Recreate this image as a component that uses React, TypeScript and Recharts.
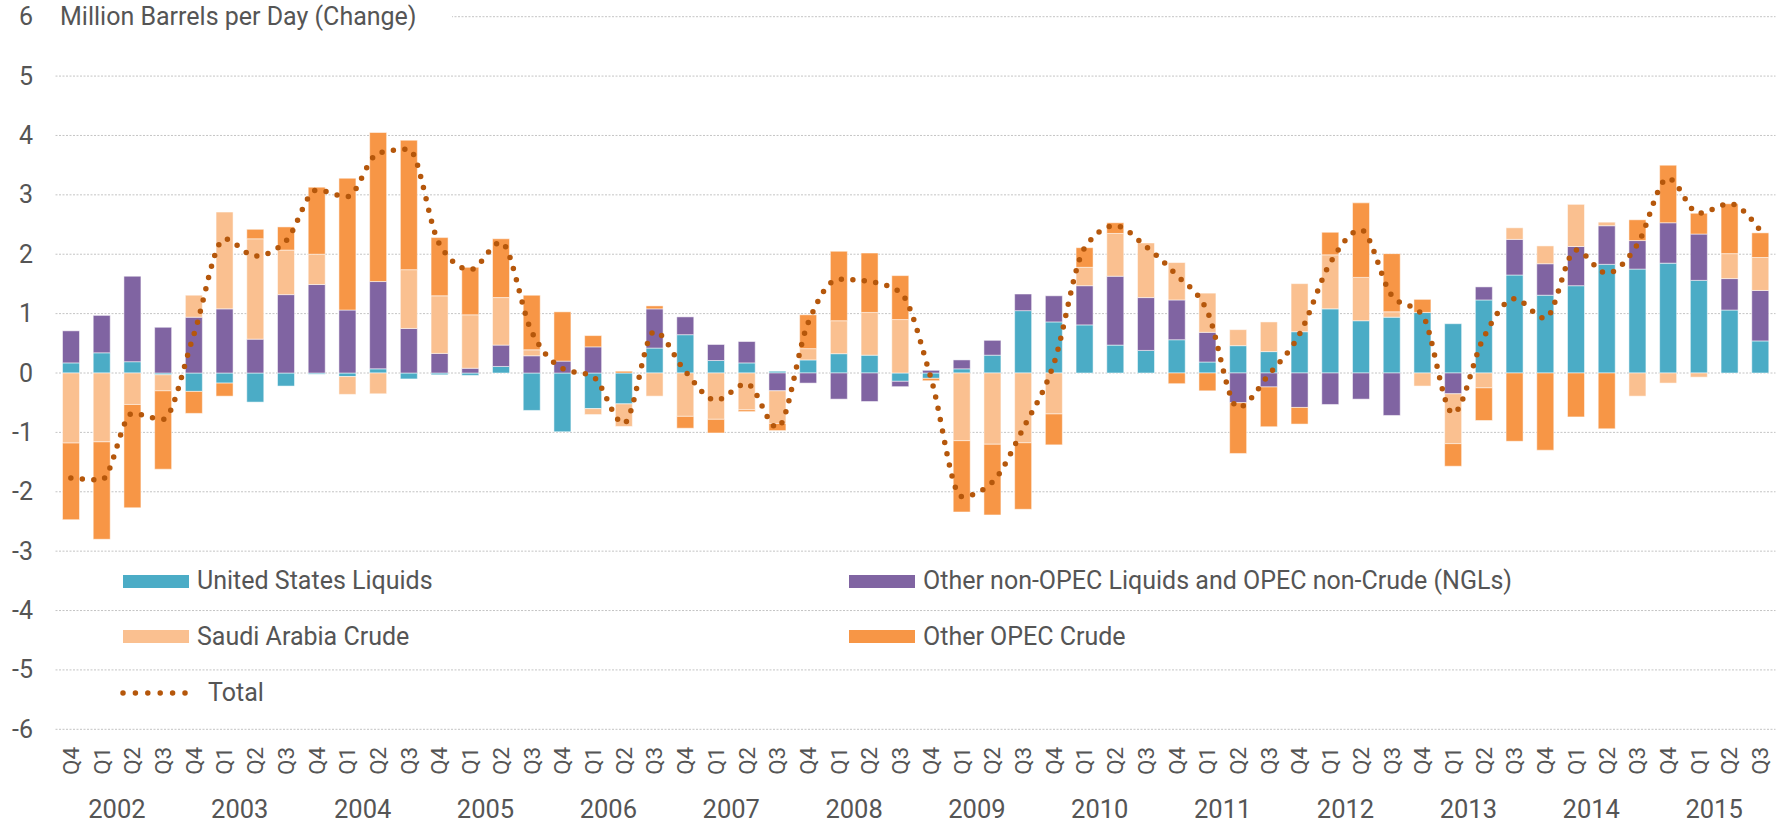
import React from 'react'
import { ComposedChart, Bar, Line, XAxis, YAxis, CartesianGrid } from 'recharts'

const years = ['2002', '2003', '2004', '2005', '2006', '2007', '2008', '2009', '2010', '2011', '2012', '2013', '2014', '2015']
const quarters = ['Q4', 'Q1', 'Q2', 'Q3']

// million barrels per day, change
const usLiquids = [
  0.17, 0.34, 0.19, -0.03, -0.31, -0.17, -0.49, -0.22, -0.02, -0.06, 0.07, -0.1, -0.03, -0.04,
  0.11, -0.63, -0.99, -0.6, -0.52, 0.42, 0.645, 0.21, 0.17, 0.03, 0.22, 0.325, 0.3, -0.14,
  -0.09, 0.07, 0.3, 1.05, 0.86, 0.81, 0.47, 0.38, 0.56, 0.185, 0.46, 0.36, 0.695, 1.08,
  0.88, 0.94, 1.02, 0.83, 1.23, 1.65, 1.31, 1.47, 1.83, 1.75, 1.85, 1.56, 1.06, 0.54,
]
const otherNonOpec = [
  0.54, 0.63, 1.44, 0.77, 0.94, 1.08, 0.57, 1.32, 1.49, 1.06, 1.47, 0.75, 0.33, 0.08,
  0.36, 0.29, 0.2, 0.44, 0, 0.66, 0.3, 0.27, 0.36, -0.3, -0.17, -0.44, -0.48, -0.09,
  0.045, 0.15, 0.25, 0.28, 0.44, 0.66, 1.16, 0.89, 0.67, 0.5, -0.5, -0.235, -0.58, -0.53,
  -0.44, -0.715, 0, -0.35, 0.22, 0.6, 0.53, 0.66, 0.65, 0.48, 0.68, 0.78, 0.53, 0.85,
]
const saudiCrude = [
  -1.18, -1.16, -0.53, -0.27, 0.37, 1.63, 1.69, 0.75, 0.51, -0.3, -0.35, 0.99, 0.97, 0.9,
  0.8, 0.1, 0, -0.1, -0.38, -0.39, -0.73, -0.78, -0.62, -0.55, 0.19, 0.555, 0.72, 0.9,
  0, -1.14, -1.2, -1.175, -0.69, 0.31, 0.72, 0.92, 0.63, 0.66, 0.27, 0.5, 0.81, 0.91,
  0.73, 0.09, -0.22, -0.84, -0.25, 0.195, 0.3, 0.71, 0.06, -0.39, -0.17, -0.07, 0.42, 0.555,
]
const otherOpecCrude = [
  -1.29, -1.64, -1.74, -1.32, -0.37, -0.22, 0.16, 0.39, 1.13, 2.22, 2.51, 2.18, 0.98, 0.8,
  0.99, 0.92, 0.83, 0.19, 0.03, 0.05, -0.2, -0.23, -0.03, -0.12, 0.57, 1.17, 1.0, 0.74,
  -0.04, -1.2, -1.19, -1.12, -0.52, 0.33, 0.18, 0, -0.18, -0.3, -0.855, -0.67, -0.28, 0.38,
  1.255, 0.98, 0.22, -0.38, -0.55, -1.15, -1.3, -0.74, -0.94, 0.35, 0.97, 0.35, 0.84, 0.415,
]
const total = [
  -1.77, -1.8, -0.68, -0.78, 0.64, 2.26, 1.97, 2.22, 3.08, 2.97, 3.7, 3.77, 2.17, 1.74,
  2.2, 0.7, 0.08, -0.06, -0.85, 0.7, 0.03, -0.46, -0.18, -0.92, 0.84, 1.58, 1.54, 1.36,
  -0.08, -2.08, -1.84, -0.94, 0.15, 2.1, 2.48, 2.13, 1.65, 1.04, -0.58, -0.03, 0.65, 1.85,
  2.41, 1.31, 0.98, -0.68, 0.6, 1.25, 0.92, 2.07, 1.68, 2.16, 3.28, 2.69, 2.85, 2.4,
]
const yTicks = [-6, -5, -4, -3, -2, -1, 0, 1, 2, 3, 4, 5, 6]

const data = usLiquids.map((v, i) => ({
  key: String(i),
  quarter: quarters[i % 4],
  year: years[Math.floor(i / 4)],
  us: v,
  nonOpec: otherNonOpec[i],
  saudi: saudiCrude[i],
  opec: otherOpecCrude[i],
  total: total[i],
}))

const W = 1787
const H = 824
const PLOT_LEFT = 55.5
const PLOT_RIGHT = 1775.5
const BAND = (PLOT_RIGHT - PLOT_LEFT) / data.length
const FONT = 'Roboto, "Noto Sans", sans-serif'
const TEXT = '#555555'

const TEAL = '#4BACC6'
const PURPLE = '#8064A2'
const LIGHT = '#FAC090'
const ORANGE = '#F79646'
const DOTS = '#B5570B'

const YTick = (props: any) => {
  const { x, y, payload } = props
  return (
    <text x={x} y={y} textAnchor="end" dominantBaseline="central" fontSize={25} fill={TEXT} fontFamily={FONT}>
      {payload.value}
    </text>
  )
}

const XTick = (props: any) => {
  const { x, y, payload } = props
  const i = Number(payload.value)
  const row = data[i]
  const qy = y + 31.5
  return (
    <g>
      <text
        x={x}
        y={qy}
        transform={`rotate(-90 ${x} ${qy})`}
        textAnchor="middle"
        dominantBaseline="central"
        fontSize={22.5}
        fill={TEXT}
        fontFamily={FONT}
      >
        {row.quarter}
      </text>
      {i % 4 === 1 && (
        <text x={x + BAND / 2} y={y + 79.5} textAnchor="middle" dominantBaseline="central" fontSize={25.5} fill={TEXT} fontFamily={FONT}>
          {row.year}
        </text>
      )}
    </g>
  )
}

const legendText: React.CSSProperties = {
  position: 'absolute',
  fontSize: 25,
  fontFamily: FONT,
  color: TEXT,
  lineHeight: '28px',
  whiteSpace: 'nowrap',
}

function Swatch({ left, cy, color, label }: { left: number; cy: number; color: string; label: string }) {
  return (
    <>
      <div style={{ position: 'absolute', left, top: cy - 6.5, width: 66, height: 13, background: color }} />
      <div style={{ ...legendText, left: left + 74, top: cy - 14 }}>{label}</div>
    </>
  )
}

export default function App() {
  return (
    <div style={{ position: 'absolute', left: 0, top: 0, width: W, height: H, background: '#fff' }}>
      <ComposedChart
        width={W}
        height={H}
        data={data}
        stackOffset="sign"
        margin={{ top: 16.7, right: W - PLOT_RIGHT, bottom: 0, left: 0 }}
      >
        <CartesianGrid vertical={false} stroke="#c4c4c4" strokeDasharray="2 1.5" />
        <YAxis
          type="number"
          domain={[-6, 6]}
          ticks={yTicks}
          interval={0}
          width={PLOT_LEFT}
          axisLine={false}
          tickLine={false}
          tickSize={0}
          tickMargin={22.5}
          tick={<YTick />}
        />
        <XAxis
          dataKey="key"
          interval={0}
          height={H - 16.7 - 712.6}
          axisLine={false}
          tickLine={false}
          tickSize={0}
          tickMargin={0}
          tick={<XTick />}
        />
        <Bar dataKey="us" stackId="s" fill={TEAL} barSize={17} stroke="#ffffff" strokeOpacity={0.5} strokeWidth={1} isAnimationActive={false} />
        <Bar dataKey="nonOpec" stackId="s" fill={PURPLE} barSize={17} stroke="#ffffff" strokeOpacity={0.5} strokeWidth={1} isAnimationActive={false} />
        <Bar dataKey="saudi" stackId="s" fill={LIGHT} barSize={17} stroke="#ffffff" strokeOpacity={0.5} strokeWidth={1} isAnimationActive={false} />
        <Bar dataKey="opec" stackId="s" fill={ORANGE} barSize={17} stroke="#ffffff" strokeOpacity={0.5} strokeWidth={1} isAnimationActive={false} />
        <Line
          dataKey="total"
          type="monotone"
          stroke={DOTS}
          strokeWidth={5.5}
          strokeLinecap="round"
          strokeDasharray="0 11.5"
          dot={false}
          activeDot={false}
          isAnimationActive={false}
        />
      </ComposedChart>

      <div
        style={{
          position: 'absolute',
          left: 55,
          top: 3,
          width: 397,
          height: 28,
          background: '#fff',
          paddingLeft: 5,
          boxSizing: 'border-box',
          fontSize: 25,
          fontFamily: FONT,
          color: TEXT,
          lineHeight: '28px',
          whiteSpace: 'nowrap',
        }}
      >
        Million Barrels per Day (Change)
      </div>

      <Swatch left={123} cy={581} color={TEAL} label="United States Liquids" />
      <Swatch left={849} cy={581} color={PURPLE} label="Other non-OPEC Liquids and OPEC non-Crude (NGLs)" />
      <Swatch left={123} cy={636.5} color={LIGHT} label="Saudi Arabia Crude" />
      <Swatch left={849} cy={636.5} color={ORANGE} label="Other OPEC Crude" />
      <svg style={{ position: 'absolute', left: 113, top: 684 }} width={84} height={18}>
        <line x1={10} y1={9} x2={72} y2={9} stroke={DOTS} strokeWidth={5.5} strokeLinecap="round" strokeDasharray="0 12.4" />
      </svg>
      <div style={{ ...legendText, left: 208, top: 679 }}>Total</div>
    </div>
  )
}
